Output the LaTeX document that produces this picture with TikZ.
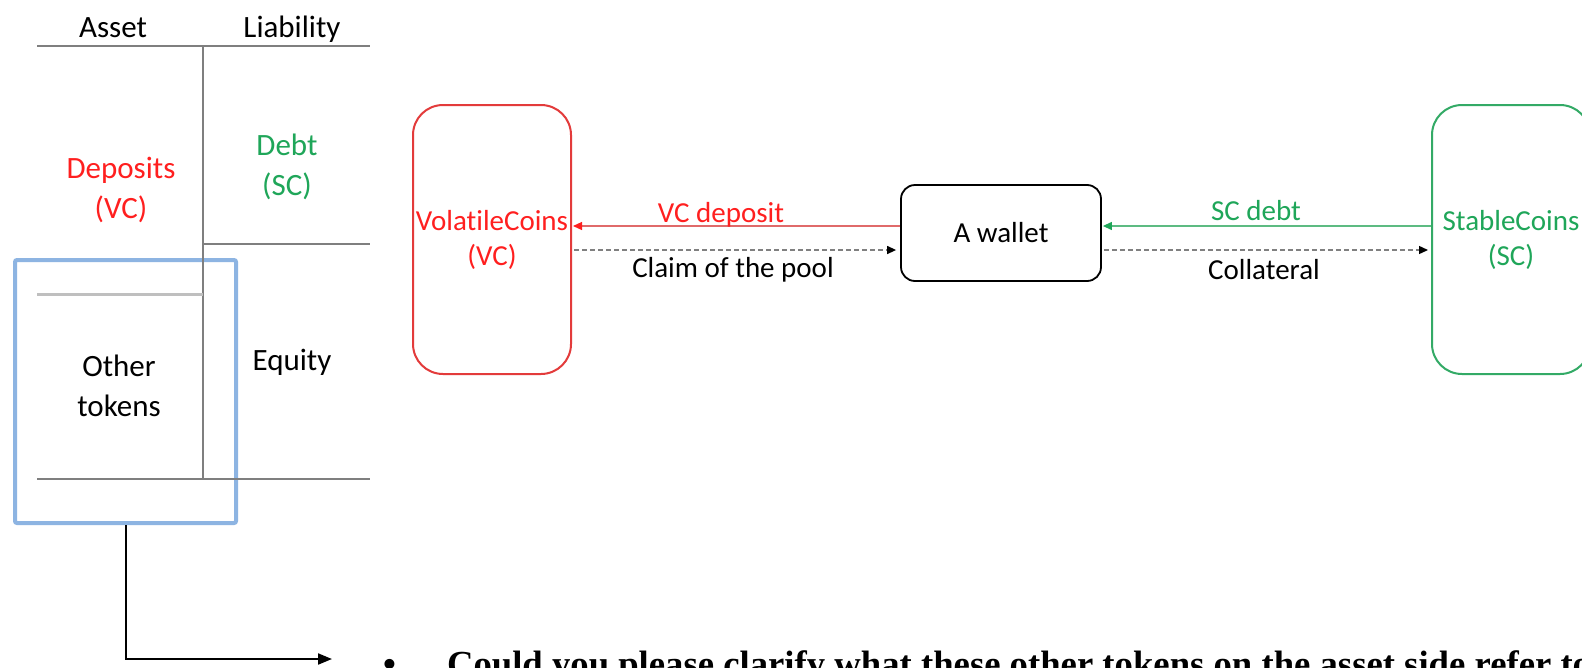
\documentclass[tikz,border=0pt]{standalone}
\usepackage{fontspec}
\setmainfont{Carlito}[Ligatures=CommonOff]
\newfontfamily\qfont{Liberation Serif}
\usetikzlibrary{arrows.meta,calc}
\definecolor{vcred}{HTML}{FF1F1F}
\definecolor{vcbox}{HTML}{E33B3B}
\definecolor{vcline}{HTML}{E06A6A}
\definecolor{scgreen}{HTML}{1FA659}
\definecolor{scbox}{HTML}{33AA66}
\definecolor{scline}{HTML}{5DBB82}
\definecolor{tblgray}{HTML}{7F7F7F}
\definecolor{sepgray}{HTML}{BFBFBF}
\definecolor{hlblue}{HTML}{8DB4E2}
\definecolor{dashgray}{HTML}{808080}
\begin{document}
\begin{tikzpicture}[x=1pt,y=-1pt,
  tbltext/.style={font=\fontsize{31}{40}\selectfont, align=center, inner sep=0pt},
  dtext/.style={font=\fontsize{29}{35}\selectfont, inner sep=0pt},
  coinbox/.style={draw, line width=2pt, rounded corners=30pt, minimum width=158pt, minimum height=269pt, inner sep=0pt, align=center, font=\fontsize{29}{35}\selectfont},
  tline/.style={draw=tblgray, line width=1.5pt},
  redflow/.style={draw=vcline, line width=1.2pt, -{Triangle[length=9pt,width=8pt,color=vcred]}},
  greenflow/.style={draw=scline, line width=1.2pt, -{Triangle[length=9pt,width=8pt,color=scgreen]}},
  claim/.style={draw=dashgray, line width=1.3pt, dash pattern=on 5pt off 3pt, -{Triangle[length=9pt,width=8pt,color=black]}}
]
\useasboundingbox (0,0) rectangle (1582,667);
\clip (0,0) rectangle (1582,667);
\fill[white] (0,0) rectangle (1582,667);

% highlight box
\node[draw=hlblue, line width=4pt, rounded corners=2pt, minimum width=221pt, minimum height=263pt, inner sep=0pt] (hl) at (125.5,391.5) {};

% balance sheet lines
\draw[tline] (37,46) -- (370,46);
\draw[tline] (203,46) -- (203,479);
\draw[tline] (203,244) -- (370,244);
\draw[draw=sepgray, line width=3pt] (37,294) -- (203,294);
\draw[tline] (37,479) -- (370,479);

% balance sheet texts
\node[tbltext, anchor=base] (asset) at (113,37) {Asset};
\node[tbltext, anchor=base] (liab) at (292,37) {Liability};
\node[tbltext, text=vcred] (dep) at (121,190) {Deposits\\(VC)};
\node[tbltext, text=scgreen] (debt) at (287,167) {Debt\\(SC)};
\node[tbltext] (oth) at (119,386) {Other\\tokens};
\node[tbltext, anchor=base] (eq) at (292,370) {Equity};

% coin boxes and wallet
\node[coinbox, draw=vcbox, text=vcred] (vc) at (492,239.5) {VolatileCoins\\(VC)};
\node[coinbox, draw=scbox, text=scgreen] (sc) at (1511,239.5) {StableCoins\\(SC)};
\node[draw, line width=1.8pt, rounded corners=14pt, minimum width=200pt, minimum height=96pt, inner sep=0pt, font=\fontsize{29}{35}\selectfont] (wal) at (1001,233) {A wallet};

% connectors
\coordinate (wa) at ([yshift=7pt]wal.west);
\coordinate (wb) at ([yshift=-17pt]wal.west);
\coordinate (wc) at ([yshift=7pt]wal.east);
\coordinate (wd) at ([yshift=-17pt]wal.east);
\draw[redflow, shorten >=1pt] (wa) -- (wa -| vc.east);
\draw[claim, shorten <=2pt, shorten >=4pt] (wb -| vc.east) -- (wb);
\draw[greenflow, shorten >=1pt] (wc -| sc.west) -- (wc);
\draw[claim, shorten <=2pt, shorten >=3pt] (wd) -- (wd -| sc.west);

% labels
\node[dtext, text=vcred, anchor=base] (lvc) at (721,222) {VC deposit};
\node[dtext, anchor=base] (lclaim) at (733,277) {Claim of the pool};
\node[dtext, text=scgreen, anchor=base] (lsc) at (1256,220) {SC debt};
\node[dtext, anchor=base] (lcol) at (1264,279) {Collateral};

% bottom question
\coordinate (qa) at (332,659);
\draw[line width=2pt, -{Triangle[length=14pt,width=11pt]}] (hl.south) |- (qa);
\node[anchor=base west, inner sep=0pt, font=\qfont\bfseries\fontsize{36.7}{44}\selectfont] (q) at (383,676) {\textbullet\hspace{51pt}Could you please clarify what these other tokens on the asset side refer to};
\end{tikzpicture}
\end{document}
